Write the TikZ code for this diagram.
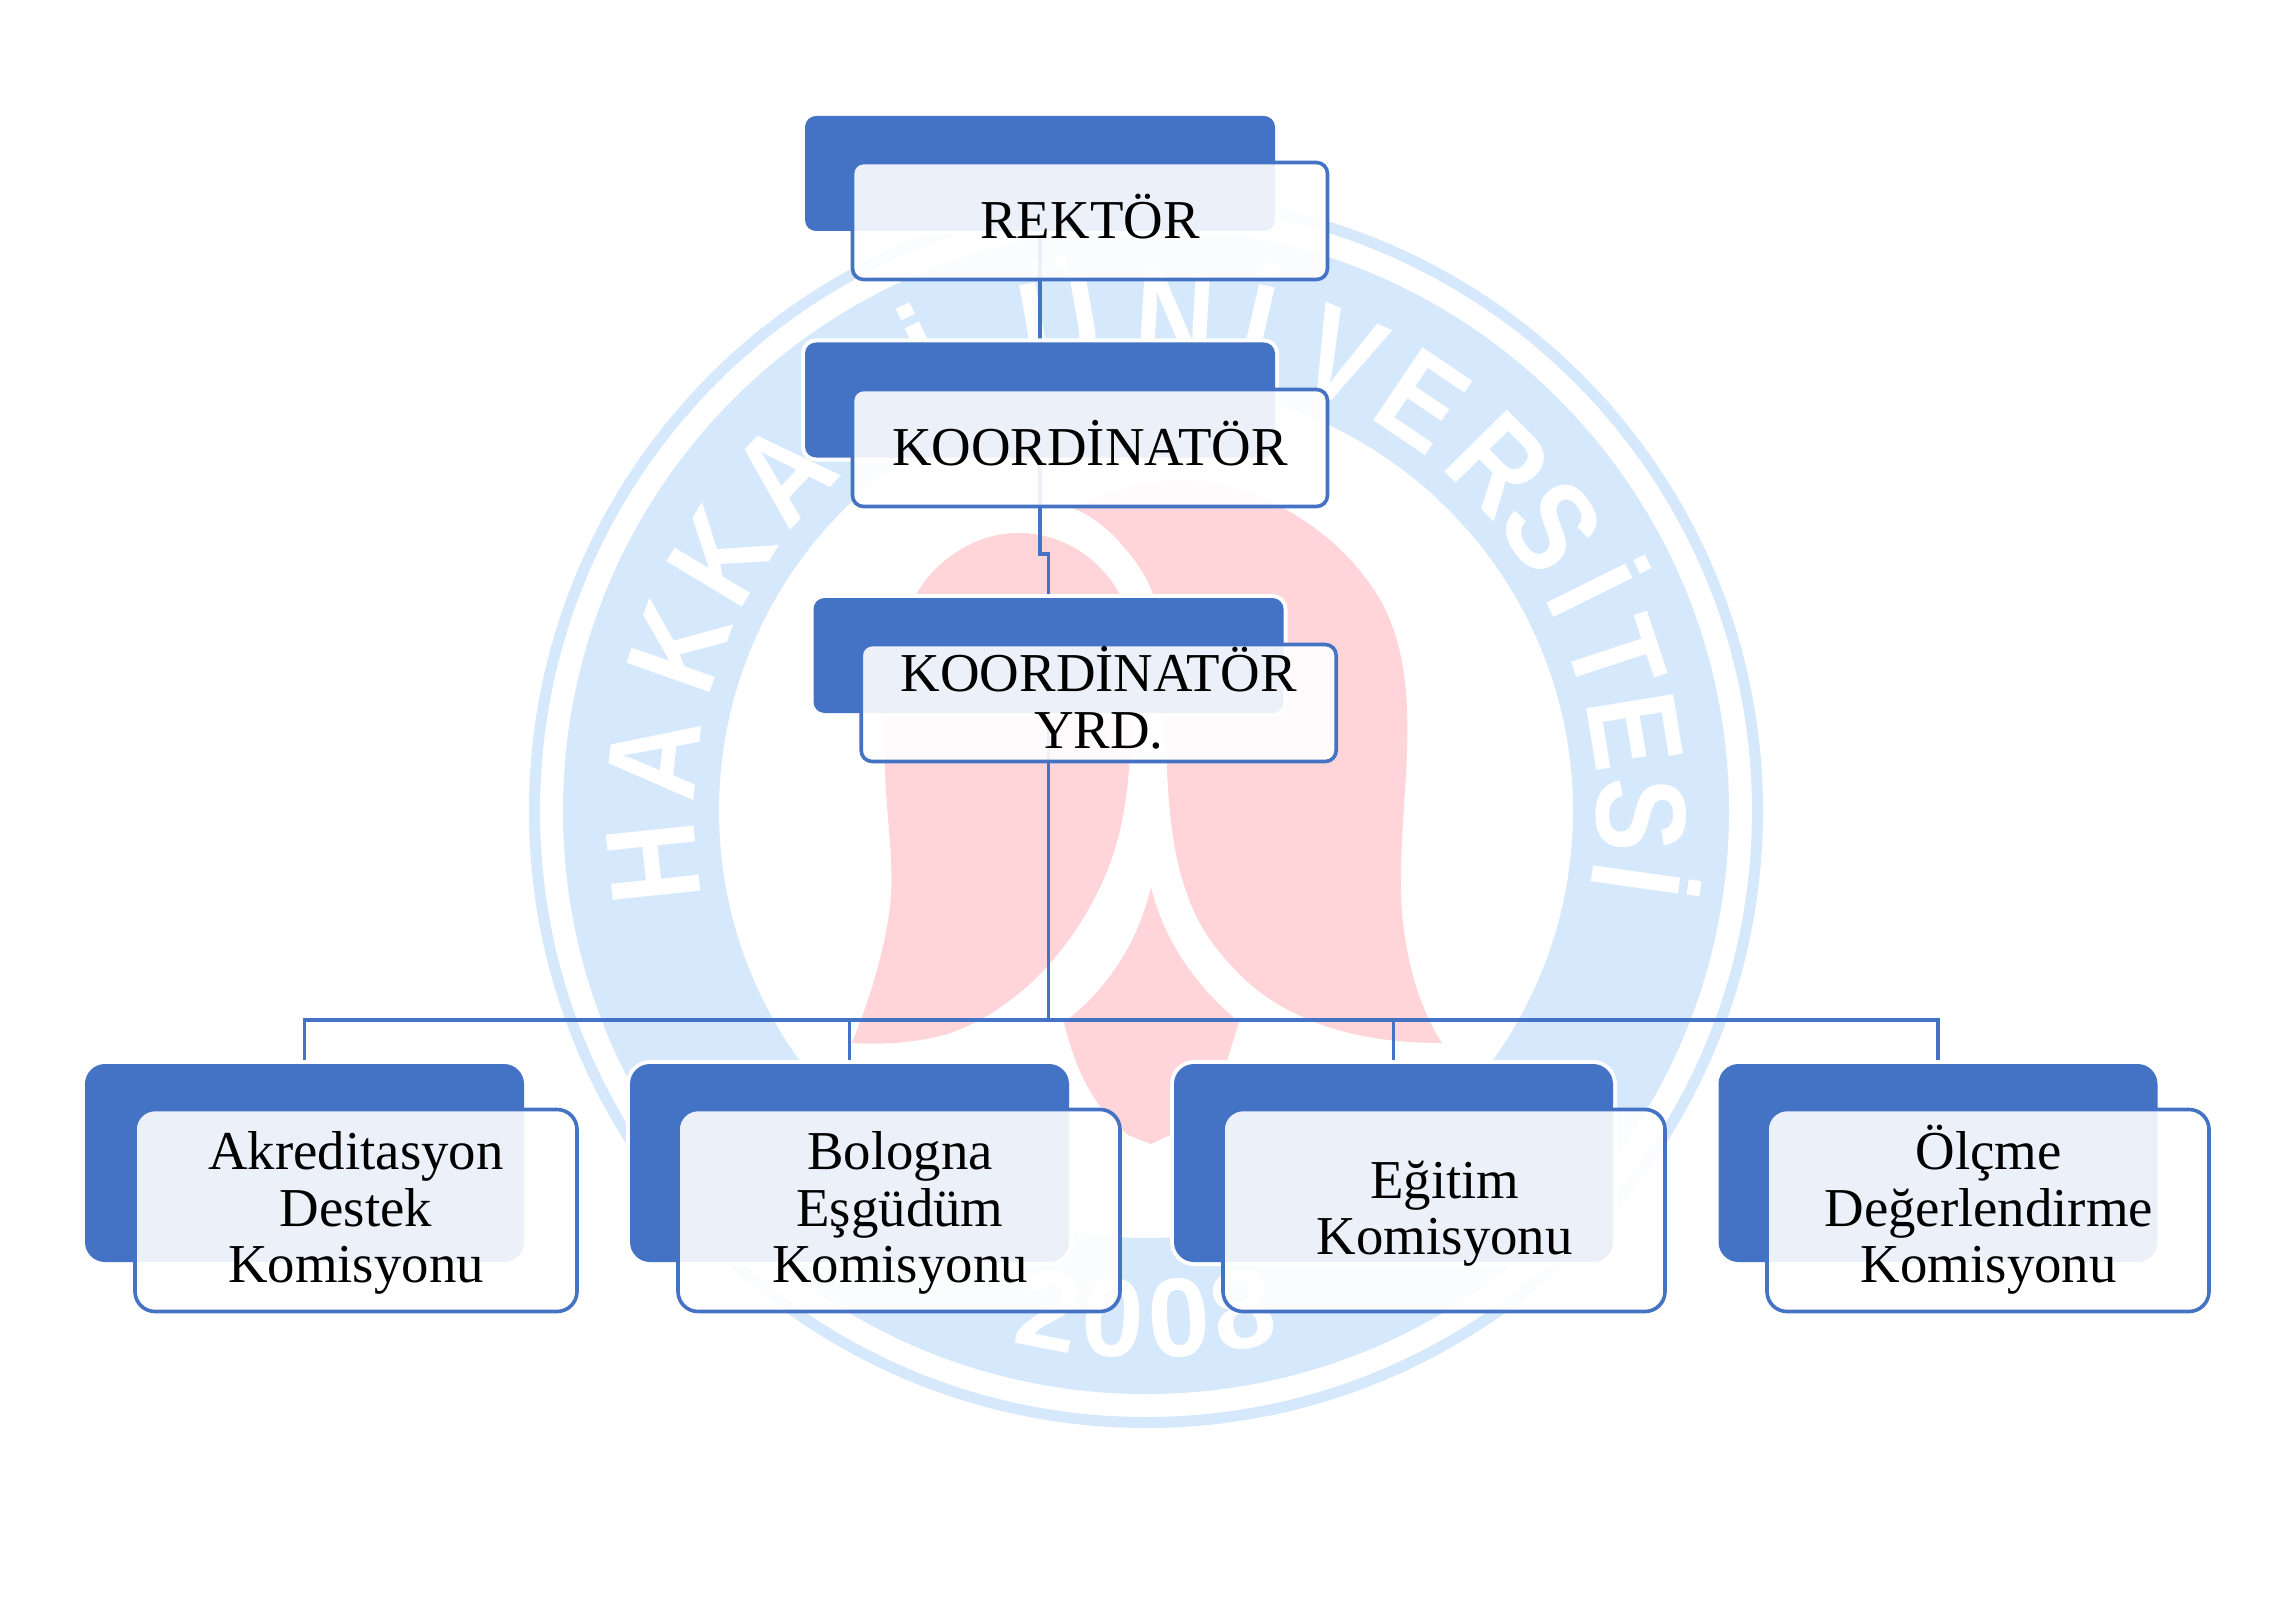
\documentclass[tikz,border=0pt]{standalone}
\usepackage{fontspec}
\setmainfont{Liberation Serif}
\newfontfamily\wmfont{Liberation Sans}[BoldFont={Liberation Sans Bold}]
\definecolor{mainblue}{HTML}{4472C4}
\definecolor{wmblue}{HTML}{D5E8FC}
\definecolor{wmred}{HTML}{FFD5D9}
\newcommand{\boxtext}[2]{\makebox[0pt][c]{\raisebox{#1}[0pt][0pt]{\vtop{\hsize=520pt\centering\fontsize{54.8}{56.7}\selectfont #2\par}}}}
\pgfdeclarelayer{wm}
\pgfdeclarelayer{links}
\pgfsetlayers{wm,links,main}
\tikzset{
  darkbox/.style={rectangle,inner sep=0pt,outer sep=0pt,fill=mainblue,preaction={draw=white,line width=8pt}},
  lightbox/.style={rectangle,inner sep=0pt,outer sep=0pt,draw=mainblue,line width=3.6pt,fill=white,fill opacity=0.9,text opacity=1},
  darktop/.style={darkbox,minimum width=470pt,minimum height=115pt,rounded corners=11pt},
  lighttop/.style={lightbox,minimum width=475pt,minimum height=117pt,rounded corners=11pt},
  darklow/.style={darkbox,minimum width=439pt,minimum height=198pt,rounded corners=20pt},
  lightlow/.style={lightbox,minimum width=442pt,minimum height=202pt,rounded corners=20pt},
  link/.style={draw=mainblue,line width=3.2pt},
  wmletter/.style={text=white,inner sep=0pt,outer sep=0pt,text height=92pt,text depth=0pt,font=\wmfont\bfseries\fontsize{128}{128}\selectfont},
  wmdigit/.style={text=white,inner sep=0pt,outer sep=0pt,text height=80pt,text depth=0pt,font=\wmfont\bfseries\fontsize{112}{112}\selectfont},
}
\begin{document}
\begin{tikzpicture}[x=1pt,y=-1pt]
\useasboundingbox (0,0) rectangle (2292,1621);
\begin{pgfonlayer}{wm}
\fill[white] (0,0) rectangle (2292,1621);
\coordinate (wc) at (1146,811);
\fill[wmblue,even odd rule] (wc) circle[radius=617pt] (wc) circle[radius=606pt];
\fill[wmblue,even odd rule] (wc) circle[radius=583pt] (wc) circle[radius=427pt];
\foreach \l/\t [count=\i] in {H/186,A/174,K/160.6,K/149,A/137,R/126,İ/115.7,Ü/100,N/86.6,İ/77,V/66.7,E/56,R/44.5,S/35,İ/26.4,T/18.2,E/9.3,S/-0.5,İ/-8}
  \node[wmletter,rotate=\t-90] (wl\i) at ({1146+497*cos(\t)},{811-497*sin(\t)}) {\scalebox{0.87}[1]{\l}};
\foreach \l/\t [count=\i] in {2/-11,0/-3.7,0/3.7,8/11}
  \node[wmdigit,rotate=\t] (wd\i) at ({1146+507*sin(\t)},{811+507*cos(\t)}) {\l};
% tulip
\fill[wmred] (851.6,1043) .. controls (870,1000) and (892,930) .. (891.5,879)
  .. controls (891,830) and (884,800) .. (885,745)
  .. controls (886,670) and (905,620) .. (917,592.6)
  .. controls (940,555) and (980,533) .. (1018,533)
  .. controls (1065,533) and (1100,560) .. (1119,592.6)
  .. controls (1130,620) and (1133,700) .. (1129,769)
  .. controls (1125,820) and (1115,860) .. (1093.6,900)
  .. controls (1075,935) and (1055,960) .. (1030,984)
  .. controls (1000,1010) and (975,1025) .. (946,1034.5)
  .. controls (915,1043) and (880,1045) .. cycle;
\fill[wmred] (1442,1043) .. controls (1420,1010) and (1400,950) .. (1401,879)
  .. controls (1401,820) and (1409,770) .. (1407,710)
  .. controls (1405,650) and (1390,610) .. (1367,580)
  .. controls (1345,550) and (1315,525) .. (1283,508)
  .. controls (1250,490) and (1215,480) .. (1180,480)
  .. controls (1140,480) and (1100,495) .. (1072.5,508)
  .. controls (1090,515) and (1108,528) .. (1123,546)
  .. controls (1135,560) and (1146,575) .. (1152.5,592.6)
  .. controls (1165,630) and (1165,700) .. (1167,769)
  .. controls (1169,820) and (1175,860) .. (1186,891)
  .. controls (1197,925) and (1215,950) .. (1241,975.6)
  .. controls (1265,1000) and (1295,1015) .. (1325,1026)
  .. controls (1360,1038) and (1400,1043) .. cycle;
\fill[wmred] (1151,887) .. controls (1165,945) and (1200,990) .. (1239,1022)
  -- (1226,1064) .. controls (1215,1090) and (1195,1120) .. (1169,1135.5)
  -- (1151,1144) -- (1129,1135.5)
  .. controls (1095,1110) and (1075,1070) .. (1064,1022)
  .. controls (1095,1000) and (1135,955) .. cycle;
\end{pgfonlayer}
\coordinate (jog) at (1044,554);
\coordinate (bus) at (1048,1020);
% boxes
\node[darktop] (d1) at (1040,173.5) {};
\node[darktop] (d2) at (1040,400) {};
\node[darktop] (d3) at (1048.5,655.5) {};
\node[darklow] (d4) at (304.5,1163) {};
\node[darklow] (d5) at (849.5,1163) {};
\node[darklow] (d6) at (1393.5,1163) {};
\node[darklow] (d7) at (1938,1163) {};
\node[lighttop] (b1) at (1090,221) {\boxtext{-17.4pt}{REKTÖR}};
\node[lighttop] (b2) at (1090,448) {\boxtext{-17pt}{KOORDİNATÖR}};
\node[lighttop] (b3) at (1098.7,703) {\boxtext{11.5pt}{KOORDİNATÖR\\YRD.}};
\node[lightlow] (b4) at (356,1210.5) {\boxtext{41.2pt}{Akreditasyon\\Destek\\Komisyonu}};
\node[lightlow] (b5) at (899,1210.5) {\hspace*{2pt}\boxtext{41.2pt}{Bologna\\Eşgüdüm\\Komisyonu}};
\node[lightlow] (b6) at (1444,1210.5) {\hspace*{1.5pt}\boxtext{12.5pt}{Eğitim\\Komisyonu}};
\node[lightlow] (b7) at (1988,1210.5) {\hspace*{1.5pt}\boxtext{41.2pt}{Ölçme\\Değerlendirme\\Komisyonu}};
% connectors, beneath the boxes
\begin{pgfonlayer}{links}
\draw[link] (d1.south) -- (d2.north);
\draw[link] (d2.south) -- (d2.south |- jog) -- (d3.north |- jog) -- (d3.north);
\draw[link] (d3.south) -- (d3.south |- bus);
\draw[link,line width=3.6pt] (d4.north) -- (d4.north |- bus) -- (d7.north |- bus) -- (d7.north);
\draw[link] (d5.north) -- (d5.north |- bus);
\draw[link] (d6.north) -- (d6.north |- bus);
\end{pgfonlayer}
\end{tikzpicture}
\end{document}
